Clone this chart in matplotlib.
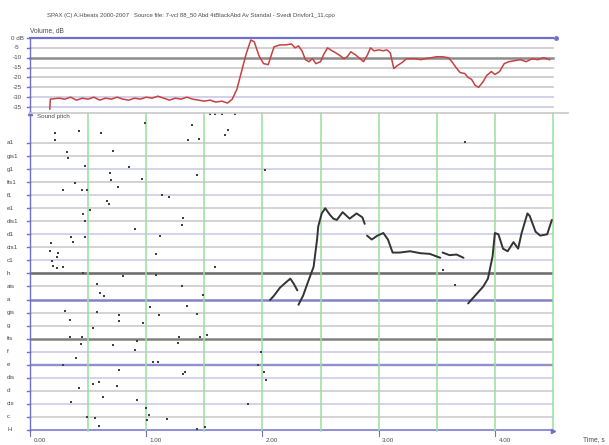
import matplotlib
matplotlib.use("Agg")
import matplotlib.pyplot as plt
from matplotlib.lines import Line2D
from matplotlib.transforms import blended_transform_factory

plt.rcParams['font.family'] = ['Liberation Sans', 'DejaVu Sans']

# ---- data ----
# volume curve (time s, level dB)
vol_t = [0.17, 0.175, 0.25, 0.30, 0.35, 0.40, 0.45, 0.50, 0.55, 0.60, 0.65, 0.70, 0.75,
         0.80, 0.85, 0.90, 0.95, 1.00, 1.05, 1.10, 1.15, 1.20, 1.25, 1.30, 1.35, 1.40,
         1.45, 1.50, 1.55, 1.60, 1.65, 1.70, 1.74, 1.78, 1.82, 1.86, 1.90, 1.93, 1.97,
         2.01, 2.05, 2.08, 2.10, 2.15, 2.20, 2.25, 2.28, 2.31, 2.34, 2.37, 2.40, 2.43,
         2.46, 2.50, 2.53, 2.56, 2.60, 2.63, 2.67, 2.70, 2.73, 2.76, 2.80, 2.84, 2.87,
         2.90, 2.93, 2.96, 3.00, 3.04, 3.07, 3.10, 3.13, 3.16, 3.20, 3.24, 3.28, 3.32,
         3.36, 3.40, 3.45, 3.50, 3.55, 3.60, 3.63, 3.66, 3.70, 3.74, 3.77, 3.80, 3.83,
         3.86, 3.90, 3.93, 3.97, 4.00, 4.04, 4.08, 4.12, 4.17, 4.22, 4.27, 4.32, 4.37,
         4.42, 4.47]
vol_db = [-36, -31, -30.5, -31, -30, -31.5, -30.5, -31, -30, -31.5, -30.5, -31, -30,
          -31, -31.5, -30.5, -31, -30, -30.5, -29.5, -30.5, -31.5, -30.5, -31, -30, -31,
          -31.5, -32, -31.5, -32.5, -32, -33, -31, -26, -17, -8, -1, -2, -9,
          -13, -13.5, -8, -4.5, -3.5, -3.5, -3, -5, -4, -6.5, -11, -12, -10.5,
          -13, -12, -8, -5, -6.5, -7.5, -9, -10.5, -9.5, -7, -8.5, -10.5, -12,
          -9, -5, -6.5, -6, -6.5, -6, -7.5, -15.5, -14, -12.5, -10.5, -10.5, -10.5,
          -11, -10.5, -10, -9.5, -9.5, -10, -12, -14.5, -17.5, -18, -20, -21, -24,
          -25, -22, -19, -17, -18.5, -17, -13, -12, -11.5, -11, -12, -10.5, -11,
          -10, -11]

vol_labels = ['0 dB', '-5', '-10', '-15', '-20', '-25', '-30', '-35']
vol_levels = [0, -5, -10, -15, -20, -25, -30, -35]

# pitch grid: semitones above H
note_names = ['H', 'c', 'cis', 'd', 'dis', 'e', 'f', 'fis', 'g', 'gis', 'a', 'ais', 'h',
              'c1', 'cis1', 'd1', 'dis1', 'e1', 'f1', 'fis1', 'g1', 'gis1', 'a1']

# continuous pitch traces (time s, semitones above H)
trace_a_t = [2.065, 2.10, 2.15, 2.20, 2.24, 2.27, 2.30]
trace_a_s = [9.96, 10.3, 10.9, 11.3, 11.6, 11.2, 10.7]
trace_b_t = [2.31, 2.35, 2.39, 2.44, 2.47, 2.48, 2.51, 2.54, 2.58, 2.61, 2.64, 2.69,
             2.75, 2.81, 2.86, 2.88]
trace_b_s = [9.6, 10.3, 11.3, 12.5, 14.6, 15.6, 16.6, 17.0, 16.5, 16.2, 16.1, 16.7,
             16.2, 16.6, 16.3, 15.8]
trace_c_t = [2.90, 2.94, 2.99, 3.04, 3.08, 3.12, 3.18, 3.27, 3.36, 3.44, 3.50, 3.53]
trace_c_s = [14.9, 14.6, 14.9, 15.1, 14.6, 13.6, 13.6, 13.7, 13.55, 13.5, 13.3, 13.2]
trace_d_t = [3.55, 3.61, 3.67, 3.73]
trace_d_s = [13.6, 13.4, 13.45, 13.2]
trace_e_t = [3.77, 3.81, 3.85, 3.90, 3.94, 3.98, 4.00, 4.03, 4.07, 4.11, 4.16, 4.20,
             4.23, 4.28, 4.30, 4.35, 4.39, 4.45, 4.49]
trace_e_s = [9.7, 10.1, 10.5, 11.0, 11.6, 13.3, 15.1, 15.0, 13.9, 13.7, 14.4, 13.9,
             15.1, 16.6, 16.4, 15.2, 14.9, 15.0, 16.1]

# scattered pitch points
dots_t = [0.215, 0.215, 0.42, 0.61, 0.32, 0.33, 0.71, 0.47, 0.85, 0.39, 0.69, 0.70, 0.96,
          0.76, 0.28, 0.45, 0.49, 0.66, 0.68, 0.46, 0.52, 1.14, 1.20, 1.36, 1.45, 1.39,
          1.44, 0.99, 1.32, 0.47, 1.31, 0.90, 1.12, 0.35, 0.37, 0.47, 0.18, 0.17, 0.24,
          0.23, 1.08, 0.19, 0.20, 0.23, 0.28, 0.46, 0.80, 1.08, 1.59, 0.58, 1.31, 0.60,
          0.64, 1.49, 1.03, 1.35, 0.30, 0.58, 0.34, 0.77, 0.77, 1.11, 1.44, 0.97, 0.54,
          0.34, 0.45, 0.44, 0.71, 0.92, 0.90, 1.28, 1.27, 1.46, 1.52, 0.40, 0.28, 1.06,
          1.10, 0.77, 1.32, 1.33, 0.59, 0.54, 0.75, 0.42, 0.63, 0.92, 0.35, 1.00, 1.02,
          0.49, 0.56, 1.18, 1.01, 0.59, 1.44, 1.51, 1.88, 1.99, 1.96, 2.01, 2.03, 1.68,
          1.70, 2.02, 3.74, 1.55, 1.59, 1.65, 1.76, 3.55, 3.66]
dots_s = [22.76, 22.22, 22.91, 22.76, 21.30, 20.84, 21.38, 20.23, 20.15, 18.93, 19.69,
          19.16, 19.23, 18.62, 18.39, 18.39, 18.39, 17.55, 17.32, 16.55, 16.86, 18.01,
          17.85, 22.22, 22.30, 23.37, 19.54, 23.52, 16.25, 16.02, 15.71, 15.40, 14.87,
          14.79, 14.41, 14.79, 14.33, 13.72, 13.56, 13.26, 13.49, 12.95, 12.57, 12.41,
          12.49, 12.03, 11.80, 11.88, 12.49, 11.19, 11.03, 10.50, 10.27, 10.34, 9.43,
          9.50, 9.12, 9.04, 8.43, 8.81, 8.35, 8.81, 8.89, 8.20, 7.82, 7.13, 7.13, 6.59,
          6.51, 6.82, 6.13, 7.13, 6.67, 7.13, 7.28, 5.52, 4.98, 5.21, 5.21, 4.60, 4.29,
          4.44, 3.68, 3.52, 3.37, 3.22, 2.53, 2.30, 2.15, 1.69, 1.15, 1.00, 0.92, 0.84,
          0.77, 0.31, 0.08, 0.23, 1.99, 5.98, 4.98, 4.44, 3.83, 22.6, 23.0, 19.92,
          22.07, 24.2, 24.2, 24.2, 24.2, 12.26, 11.1]

x_ticks = [0, 1, 2, 3, 4]
x_tick_labels = ['0.00', '1.00', '2.00', '3.00', '4.00']

# ---- layout helpers (pixel -> figure fraction) ----
W, H = 609, 445
def fx(px):
    return px / W
def fy(py):
    return 1 - py / H

axis_blue = '#7070cc'
lav = '#c8c8e8'
gray = '#c8c8c8'
dark = '#8c8c8c'
green = '#9ade9a'
txt = '#4a4a4a'

fig = plt.figure(figsize=(W / 100, H / 100), dpi=100)
fig.patch.set_facecolor('white')

# ---- volume panel ----
ax1 = fig.add_axes([fx(30), fy(110), fx(553) - fx(30), fy(38) - fy(110)])
ax1.set_xlim(0, 4.5)
ax1.set_ylim(-36.5, 0)
ax1.axis('off')
vol_colors = [axis_blue, gray, dark, gray, gray, gray, lav, lav]
vol_widths = [1.6, 1.2, 1.8, 1.2, 1.2, 1.2, 1.2, 1.2]
for lev, c, w in zip(vol_levels, vol_colors, vol_widths):
    ax1.axhline(lev, color=c, lw=w, clip_on=False, zorder=1)
ax1.plot([4.53], [0], marker='o', ms=2.5, color=axis_blue, clip_on=False)
ax1.axvline(0, color=axis_blue, lw=1.0, clip_on=False)
ax1.plot(vol_t, vol_db, color='#c84040', lw=1.1, zorder=3)
tr1 = blended_transform_factory(fig.transFigure, ax1.transData)
for lev, lab in zip(vol_levels, vol_labels):
    ax1.text(fx(17), lev, lab, transform=tr1, ha='center', va='center', fontsize=4.5, color=txt)
    ax1.plot([-0.03, 0], [lev, lev], color=axis_blue, lw=1.0, clip_on=False)
fig.text(fx(30), fy(31), 'Volume, dB', fontsize=4.8, color=txt, va='center')

# ---- pitch panel ----
ax2 = fig.add_axes([fx(30), fy(431), fx(553) - fx(30), fy(113) - fy(431)])
ax2.set_xlim(0, 4.5)
ax2.set_ylim(-0.08, 24.3)
ax2.axis('off')

line_style = {
    'a1': (gray, 1.1), 'gis1': (gray, 1.1), 'g1': (lav, 1.1), 'fis1': (gray, 1.1),
    'f1': (lav, 1.1), 'e1': (gray, 1.1), 'dis1': (gray, 1.1), 'd1': (lav, 1.1),
    'cis1': (gray, 1.1), 'c1': (lav, 1.1), 'h': ('#707070', 1.9), 'ais': (gray, 1.1),
    'a': ('#8282c8', 1.8), 'gis': (gray, 1.1), 'g': (gray, 1.1), 'fis': ('#808080', 1.8),
    'f': (lav, 1.1), 'e': ('#9090cc', 1.7), 'dis': (lav, 1.1), 'd': (gray, 1.1),
    'cis': (lav, 1.1), 'c': (gray, 1.1), 'H': (axis_blue, 1.1),
}
tr2 = blended_transform_factory(fig.transFigure, ax2.transData)
for i, name in enumerate(note_names):
    c, w = line_style[name]
    ax2.axhline(i, color=c, lw=w, zorder=1)
    ax2.plot([-0.03, 0], [i, i], color=axis_blue, lw=1.0, clip_on=False)
    ax2.text(fx(7), i, name, transform=tr2, ha='left', va='center', fontsize=4.5, color=txt)

for t in [0.5, 1.0, 1.5, 2.0, 2.5, 3.0, 3.5, 4.0, 4.5]:
    ax2.axvline(t, color=green, lw=1.1, zorder=2, clip_on=False)

ax2.axvline(0, color=axis_blue, lw=1.0, clip_on=False)
ax2.plot([0], [24.3], marker='^', ms=3, color=axis_blue, clip_on=False)
ax2.plot([4.5], [-0.08], marker='>', ms=3, color=axis_blue, clip_on=False)

for tt, ss in [(trace_a_t, trace_a_s), (trace_b_t, trace_b_s), (trace_c_t, trace_c_s),
               (trace_d_t, trace_d_s), (trace_e_t, trace_e_s)]:
    ax2.plot(tt, ss, color='#333333', lw=1.4, zorder=4, solid_capstyle='round')
ax2.scatter(dots_t, dots_s, s=4, marker='s', color='#404040', lw=0, zorder=4, clip_on=False)

trx = blended_transform_factory(ax2.transData, fig.transFigure)
for t, lab in zip(x_ticks, x_tick_labels):
    ax2.text(t + 0.03, fy(441), lab, transform=trx, ha='left', va='center', fontsize=4.5, color=txt)
    ax2.plot([t, t], [-0.08, -0.45], color=axis_blue, lw=0.8, clip_on=False)
fig.text(fx(583), fy(440), 'Time, s', fontsize=4.8, color=txt, va='center')

# separator line above the pitch panel and its label
fig.add_artist(Line2D([fx(30), fx(568)], [fy(113), fy(113)], color=gray, lw=1.2))
fig.text(fx(37), fy(117), 'Sound pitch', fontsize=4.5, color=txt, va='center',
         bbox=dict(facecolor='white', edgecolor='none', pad=0.5))

fig.text(fx(47), fy(16),
         'SPAX (C) A.Hbeats 2000-2007   Source file: 7-vcl 88_50 Abd 4tBlackAbd Av Standal - Svedi Drivfor1_11.cpo',
         fontsize=4.3, color=txt, va='center')

fig.savefig('out.png', dpi=100)
